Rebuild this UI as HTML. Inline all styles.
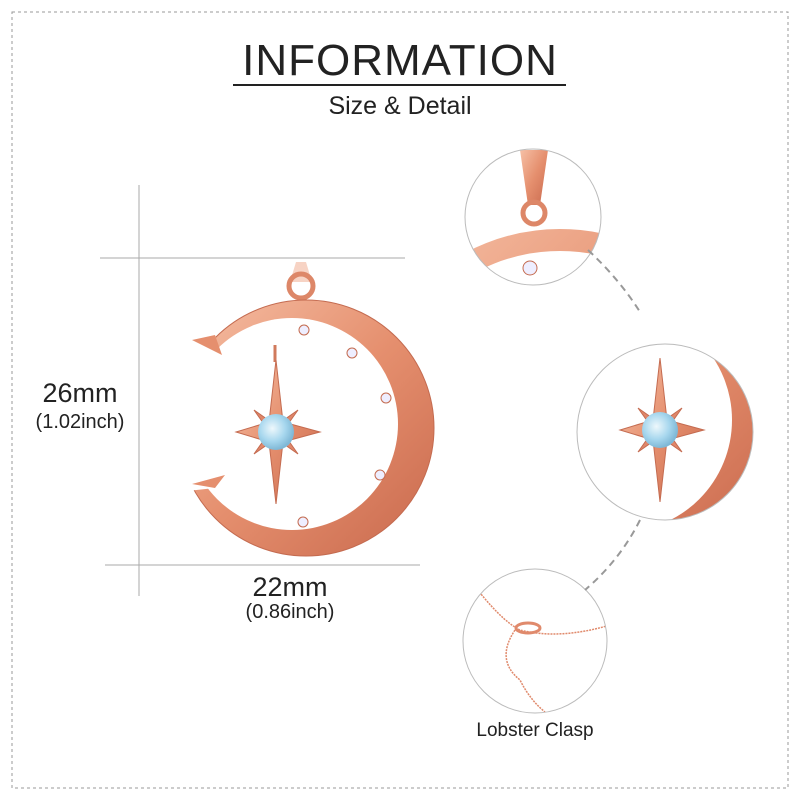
<!DOCTYPE html>
<html><head><meta charset="utf-8"><style>
body{margin:0;background:#fff}
.wrap{position:relative;width:800px;height:800px;overflow:hidden;font-family:"Liberation Sans",sans-serif;color:#222}
.t{position:absolute;white-space:nowrap;text-align:center}
</style></head><body><div class="wrap">
<svg width="800" height="800" style="position:absolute;left:0;top:0">
<defs>
<linearGradient id="rg" x1="0" y1="0" x2="1" y2="1"><stop offset="0" stop-color="#f6c0a6"/><stop offset=".5" stop-color="#e58f6e"/><stop offset="1" stop-color="#c9694d"/></linearGradient>
<radialGradient id="ms" cx=".4" cy=".4" r=".6"><stop offset="0" stop-color="#eef8fc"/><stop offset=".6" stop-color="#a7d7ee"/><stop offset="1" stop-color="#7fb8d6"/></radialGradient>
<mask id="cm"><rect width="800" height="800" fill="#fff"/><circle cx="292" cy="424" r="106" fill="#000"/><path d="M150,330 L215,335 L240,425 L215,488 L150,495Z" fill="#000"/></mask>
<mask id="cm2"><rect width="800" height="800" fill="#fff"/><circle cx="620" cy="420" r="112" fill="#000"/></mask>
<clipPath id="c1"><circle cx="533" cy="217" r="68"/></clipPath>
<clipPath id="c2"><circle cx="665" cy="432" r="88"/></clipPath>
<clipPath id="c3"><circle cx="535" cy="641" r="72"/></clipPath>
<g id="star">
<path d="M0,-72 L7,-10 L44,0 L7,10 L0,72 L-7,10 L-40,0 L-7,-10Z" fill="url(#rg)" stroke="#c46b50" stroke-width="1"/>
<path d="M-22,-22 L-10,-5 L-5,-10Z M22,-22 L10,-5 L5,-10Z M-22,22 L-10,5 L-5,10Z M22,22 L10,5 L5,10Z" fill="#e0876a" stroke="#c46b50"/>
<circle r="18" fill="url(#ms)"/>
</g>
</defs>
<rect x="12" y="12" width="776" height="776" fill="none" stroke="#999" stroke-dasharray="3,3"/>
<line x1="233" y1="85" x2="566" y2="85" stroke="#222" stroke-width="2"/>
<line x1="139" y1="185" x2="139" y2="596" stroke="#aaa"/>
<line x1="100" y1="258" x2="405" y2="258" stroke="#aaa"/>
<line x1="105" y1="565" x2="420" y2="565" stroke="#aaa"/>
<!-- pendant -->
<path d="M296,262 L306,262 L312,282 L290,282Z" fill="#f7d3c4"/>
<circle cx="301" cy="286" r="12" fill="none" stroke="#dd8768" stroke-width="5"/>
<circle cx="306" cy="428" r="128" fill="url(#rg)" stroke="#c46b50" mask="url(#cm)"/>
<path d="M215,335 L192,340 L222,355Z M215,488 L192,484 L225,475Z" fill="#e58f6e"/>
<g fill="#eef" stroke="#c46b50"><circle cx="304" cy="330" r="5"/><circle cx="352" cy="353" r="5"/><circle cx="386" cy="398" r="5"/><circle cx="380" cy="475" r="5"/><circle cx="303" cy="522" r="5"/></g>
<line x1="275" y1="345" x2="275" y2="362" stroke="#d07a5c" stroke-width="3"/>
<use href="#star" x="276" y="432"/>
<!-- circles -->
<g clip-path="url(#c1)">
<path d="M520,150 L548,150 L540,205 L528,205Z" fill="url(#rg)"/>
<circle cx="534" cy="213" r="11" fill="none" stroke="#dd8768" stroke-width="5"/>
<circle cx="560" cy="430" r="190" fill="none" stroke="url(#rg)" stroke-width="22"/>
<circle cx="530" cy="268" r="7" fill="#eef" stroke="#c46b50"/>
</g>
<circle cx="533" cy="217" r="68" fill="none" stroke="#bbb"/>
<g clip-path="url(#c2)">
<circle cx="630" cy="415" r="130" fill="url(#rg)" mask="url(#cm2)"/>
<use href="#star" x="660" y="430"/>
</g>
<circle cx="665" cy="432" r="88" fill="none" stroke="#bbb"/>
<g clip-path="url(#c3)" fill="none" stroke="#e08a6c" stroke-width="1.5" stroke-dasharray="2,1">
<path d="M470,580 Q500,620 520,630 Q560,640 610,625"/>
<path d="M515,630 Q495,660 520,680 Q530,700 545,712"/>
<ellipse cx="528" cy="628" rx="12" ry="5" stroke-dasharray="none" stroke-width="3"/>
</g>
<circle cx="535" cy="641" r="72" fill="none" stroke="#bbb"/>
<path d="M588,250 Q620,280 640,312" fill="none" stroke="#999" stroke-width="2" stroke-dasharray="7,5"/>
<path d="M640,520 Q620,560 585,590" fill="none" stroke="#999" stroke-width="2" stroke-dasharray="7,5"/>
</svg>
<div class="t" style="left:200px;width:400px;top:36px;font-size:44px;letter-spacing:1px">INFORMATION</div>
<div class="t" style="left:200px;width:400px;top:92px;font-size:25px">Size &amp; Detail</div>
<div class="t" style="left:25px;width:110px;top:378px;font-size:27px">26mm</div>
<div class="t" style="left:25px;width:110px;top:411px;font-size:20px">(1.02inch)</div>
<div class="t" style="left:230px;width:120px;top:572px;font-size:27px">22mm</div>
<div class="t" style="left:230px;width:120px;top:601px;font-size:20px">(0.86inch)</div>
<div class="t" style="left:455px;width:160px;top:720px;font-size:19px">Lobster Clasp</div>
</div></body></html>
